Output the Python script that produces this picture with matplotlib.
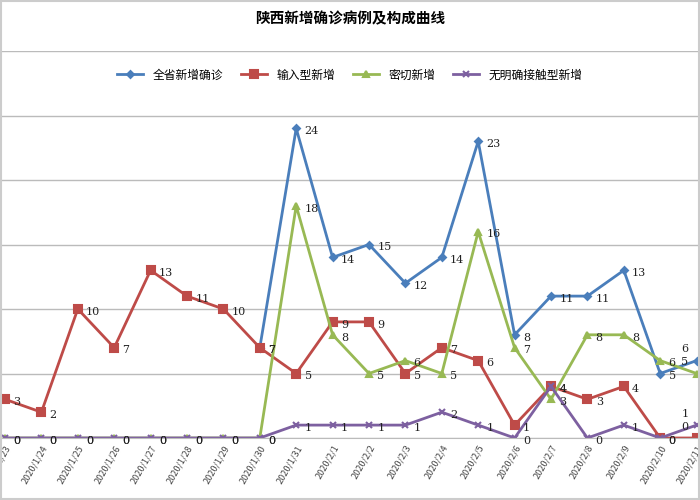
import matplotlib
matplotlib.use("Agg")
import matplotlib.pyplot as plt
import numpy as np

plt.rcParams['font.family'] = ['Noto Sans CJK SC', 'DejaVu Sans']

dates = ["2020/1/23","2020/1/24","2020/1/25","2020/1/26","2020/1/27","2020/1/28","2020/1/29","2020/1/30",
         "2020/1/31","2020/2/1","2020/2/2","2020/2/3","2020/2/4","2020/2/5","2020/2/6","2020/2/7",
         "2020/2/8","2020/2/9","2020/2/10","2020/2/11"]
total = [None]*7 + [7,24,14,15,12,14,23,8,11,11,13,5,6]
imported = [3,2,10,7,13,11,10,7,5,9,9,5,7,6,1,4,3,4,0,0]
close = [0]*8 + [18,8,5,6,5,16,7,3,8,8,6,5]
unknown = [0]*8 + [1,1,1,1,2,1,0,4,0,1,0,1]

names = ["全省新增确诊", "输入型新增", "密切新增", "无明确接触型新增"]
colors = ["#4a7ebb", "#be4b48", "#98b954", "#7d60a0"]
markers = ["D", "s", "^", "x"]
msz = [3.5, 6, 5, 5]

fig = plt.figure(figsize=(7, 5), dpi=100)
ax = fig.add_axes([0, 0.124, 1, 0.774])
x = np.arange(len(dates))
for vals, n, c, m, s in zip([total, imported, close, unknown], names, colors, markers, msz):
    y = np.array([np.nan if v is None else v for v in vals], dtype=float)
    ax.plot(x, y, color=c, lw=2, marker=m, ms=s, mew=1.5, label=n)
    for xi, yi in zip(x, y):
        if not np.isnan(yi):
            right = xi == len(dates) - 1
            ax.annotate(f"{int(yi)}", (xi, yi), xytext=(-6 if right else 6, -2 if not right else 8),
                        textcoords="offset points", fontsize=8, va="center",
                        ha="right" if right else "left", color="#222222", family="DejaVu Serif")

ax.set_xlim(-5/36.4, 695/36.4)
ax.set_ylim(0, 30)
ax.set_yticks(range(0, 31, 5))
ax.yaxis.grid(True, color="#bbbbbb", lw=1)
ax.set_axisbelow(True)
ax.tick_params(axis="y", left=False, labelleft=False)
ax.tick_params(axis="x", length=0, pad=4)
ax.set_xticks(x)
ax.set_xticklabels(dates, rotation=60, ha="right", rotation_mode="anchor", fontsize=6.5, color="#444444")
for sp in ["top", "right", "left"]:
    ax.spines[sp].set_visible(False)
ax.spines["bottom"].set_color("#bbbbbb")
ax.legend(loc="center", bbox_to_anchor=(0.5, 0.938), ncol=4, frameon=False, fontsize=8.5,
          handlelength=2.2, columnspacing=1.5)
fig.text(0.5, 0.963, "陕西新增确诊病例及构成曲线", ha="center", va="center", fontsize=10.5, fontweight="bold")
fig.patches.append(plt.Rectangle((0.002, 0.002), 0.996, 0.996, transform=fig.transFigure,
                                 fill=False, edgecolor="#cccccc", lw=1.5))
fig.savefig("out.png", dpi=100)
